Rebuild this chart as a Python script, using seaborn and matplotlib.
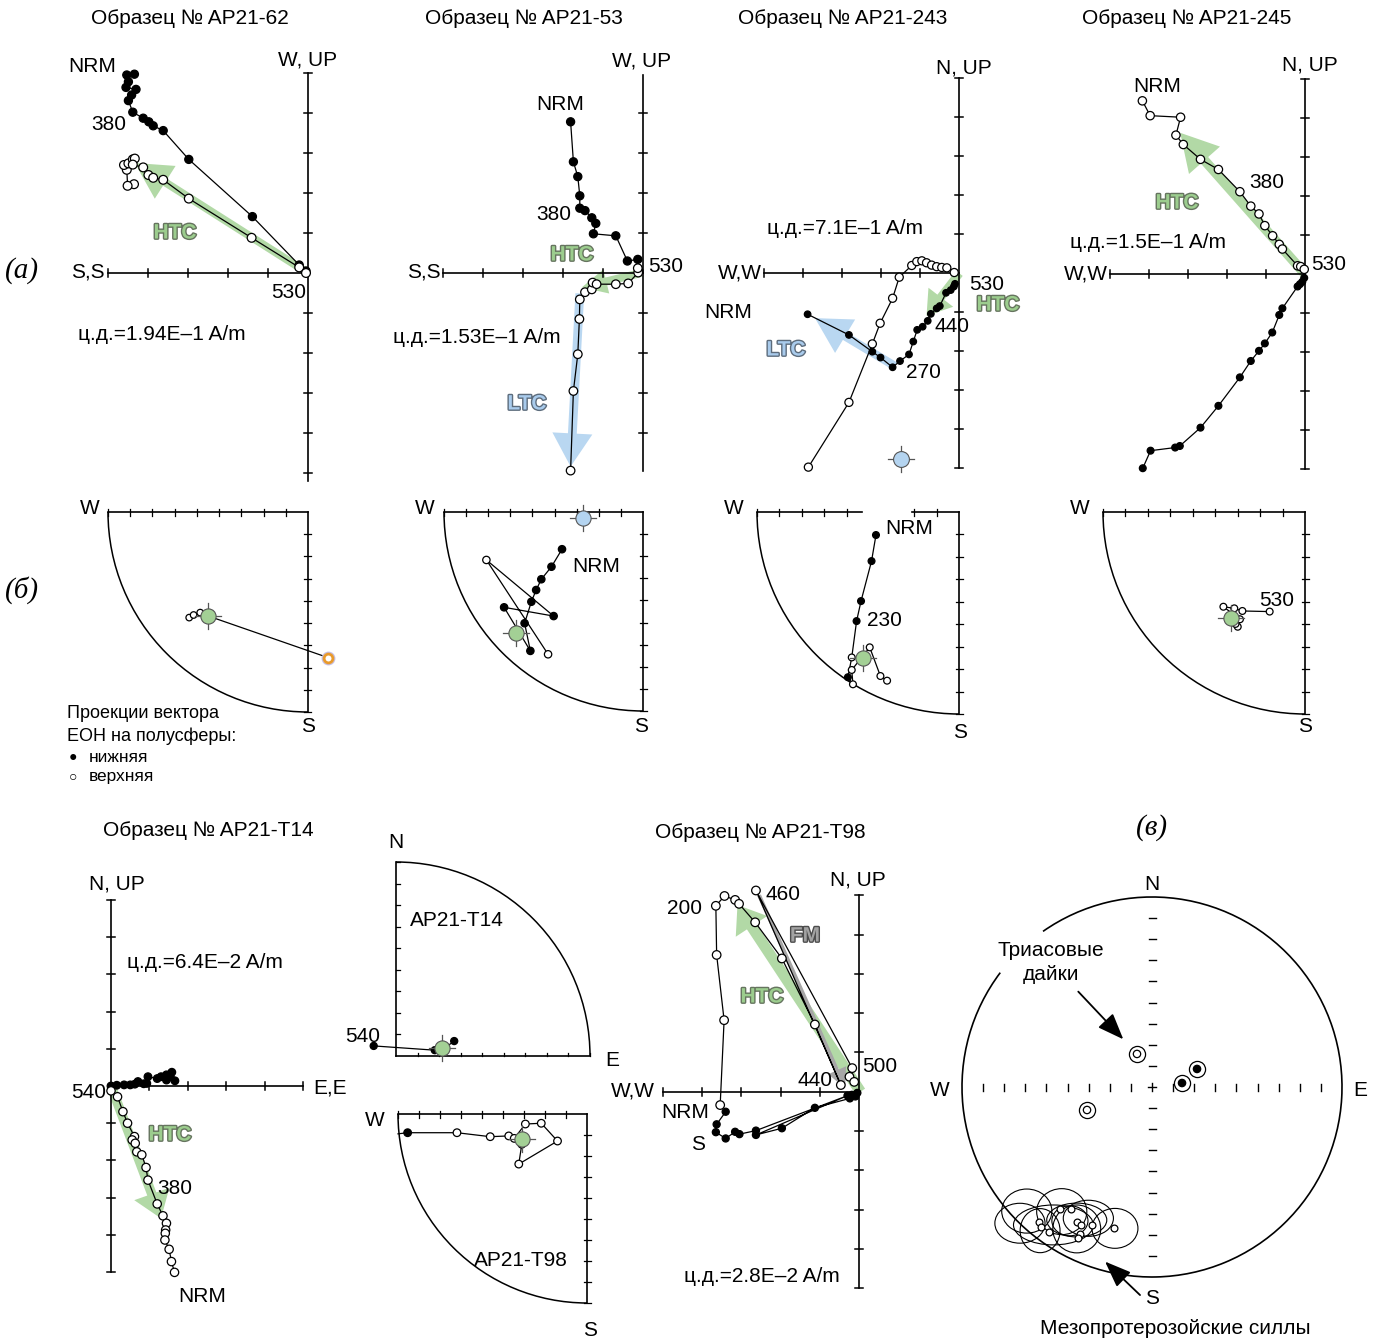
import numpy as np
import matplotlib
matplotlib.use("Agg")
import matplotlib.pyplot as plt
import matplotlib.patheffects as pe
from matplotlib.patches import FancyArrow, Arc, Ellipse
import seaborn as sns

W, H = 1381, 1342
FS = 15

# ---------------- data ----------------
# orthogonal (Zijderveld) plots, units = one axis tick
ap62_h_x = [-4.34, -4.53, -4.49, -4.55, -4.30, -4.41, -4.49, -4.38, -4.12, -3.98, -3.87, -3.62, -2.98, -1.39, -0.22, -0.05]
ap62_h_y = [4.97, 4.95, 4.78, 4.64, 4.59, 4.45, 4.31, 4.02, 3.87, 3.78, 3.68, 3.56, 2.84, 1.41, 0.20, 0.05]
ap62_v_x = [-4.35, -4.51, -4.53, -4.60, -4.49, -4.38, -4.33, -4.38, -4.12, -3.99, -3.87, -3.62, -2.98, -1.41, -0.22, -0.05]
ap62_v_y = [2.22, 2.18, 2.58, 2.70, 2.74, 2.84, 2.86, 2.71, 2.64, 2.45, 2.38, 2.33, 1.86, 0.88, 0.14, 0.00]

ap53_h_x = [-1.81, -1.74, -1.63, -1.58, -1.58, -1.45, -1.28, -1.18, -1.24, -0.68, -0.39, -0.13, -0.10]
ap53_h_y = [3.78, 2.78, 2.41, 1.93, 1.62, 1.56, 1.38, 1.24, 0.98, 0.93, 0.30, 0.34, 0.05]
ap53_v_x = [-1.81, -1.74, -1.63, -1.59, -1.58, -1.45, -1.28, -1.26, -1.16, -0.68, -0.37, -0.12, -0.13]
ap53_v_y = [-4.94, -2.95, -2.03, -1.15, -0.66, -0.48, -0.41, -0.24, -0.28, -0.28, -0.26, 0.01, 0.12]

ap243_h_x = [-3.89, -2.83, -2.23, -2.02, -1.71, -1.52, -1.29, -1.18, -1.08, -0.94, -0.81, -0.73, -0.58, -0.50, -0.34, -0.22, -0.14, -0.11]
ap243_h_y = [-1.05, -1.58, -2.01, -2.16, -2.41, -2.25, -2.08, -1.75, -1.45, -1.37, -1.22, -1.04, -0.90, -0.84, -0.50, -0.43, -0.34, -0.27]
ap243_v_x = [-3.87, -2.83, -2.23, -2.03, -1.71, -1.54, -1.22, -1.09, -0.96, -0.84, -0.71, -0.58, -0.45, -0.32, -0.13]
ap243_v_y = [-4.97, -3.31, -1.81, -1.28, -0.64, -0.10, 0.20, 0.30, 0.32, 0.27, 0.21, 0.17, 0.15, 0.14, 0.02]
ap243_mean = (-1.50, -4.75)

ap245_v_x = [-4.17, -3.97, -3.19, -3.31, -3.12, -2.68, -2.22, -1.67, -1.39, -1.18, -1.03, -0.83, -0.66, -0.58, -0.19, -0.11, -0.02]
ap245_v_y = [4.44, 4.06, 4.02, 3.56, 3.32, 2.94, 2.68, 2.11, 1.74, 1.54, 1.24, 0.98, 0.76, 0.64, 0.21, 0.19, 0.12]
ap245_h_x = [-4.16, -3.96, -3.33, -3.21, -2.68, -2.22, -1.67, -1.39, -1.18, -1.03, -0.84, -0.66, -0.58, -0.19, -0.13, -0.07, -0.02]
ap245_h_y = [-4.98, -4.53, -4.45, -4.41, -3.94, -3.38, -2.65, -2.23, -1.97, -1.78, -1.50, -1.05, -0.88, -0.32, -0.26, -0.20, -0.10]

t14_h_x = [0.0, 0.15, 0.34, 0.50, 0.62, 0.70, 0.85, 0.93, 0.96, 1.20, 1.30, 1.44, 1.58, 1.54, 1.66, 1.44]
t14_h_y = [0.0, 0.02, 0.03, 0.03, 0.05, 0.12, 0.06, 0.07, 0.25, 0.20, 0.25, 0.30, 0.37, 0.25, 0.14, 0.16]
t14_v_x = [0.0, 0.17, 0.31, 0.43, 0.61, 0.55, 0.63, 0.67, 0.80, 0.91, 0.96, 1.20, 1.35, 1.44, 1.42, 1.41, 1.40, 1.51, 1.57, 1.65]
t14_v_y = [-0.13, -0.29, -0.69, -1.00, -1.36, -1.45, -1.54, -1.77, -1.85, -2.19, -2.53, -3.17, -3.49, -3.69, -3.87, -3.96, -4.14, -4.39, -4.72, -5.01]

t98_v_x = [-3.54, -3.44, -3.63, -3.65, -3.43, -3.16, -3.06, -2.65, -1.97, -1.13, -0.47, -2.63, -0.18, -0.25, -0.13]
t98_v_y = [-0.34, 1.82, 3.48, 4.73, 4.98, 4.88, 4.78, 4.31, 3.39, 1.71, 0.17, 5.12, 0.60, 0.38, 0.25]
t98_h_x = [-3.40, -3.63, -3.65, -3.40, -3.16, -3.05, -2.63, -0.30, -2.63, -1.97, -1.13, -0.24, -0.19, -0.10, -0.05]
t98_h_y = [-0.51, -0.83, -1.03, -1.19, -1.02, -1.08, -0.99, -0.10, -1.10, -0.93, -0.41, -0.17, -0.08, -0.12, -0.03]

# fitted components: (start, tip, band width, head width, head length)
ap62_htc = [(0.0, 0.0), (-4.33, 2.75), 0.20, 0.97, 0.90]
ap53_htc = [(-0.05, 0.0), (-1.53, -0.36), 0.20, 0.62, 0.63]
ap53_ltc = [(-1.58, -0.51), (-1.81, -4.84), 0.22, 1.00, 0.83]
ap243_htc = [(0.0, 0.0), (-0.84, -1.09), 0.22, 0.80, 0.60]
ap243_ltc = [(-1.65, -2.38), (-3.70, -1.15), 0.22, 1.00, 0.90]
ap245_htc = [(0.0, 0.0), (-3.20, 3.62), 0.25, 1.06, 0.94]
t14_htc = [(0.0, 0.0), (1.30, -3.56), 0.25, 0.97, 0.70]
t98_htc = [(0.03, 0.0), (-3.10, 4.75), 0.28, 0.96, 0.65]
t98_fm = [(-2.55, 5.00), (-0.36, 0.09), 0.10, 0.50, 0.50]

# equal-area projections, units = net radius
st62_x = [-0.594, -0.572, -0.539, -0.488, 0.100]
st62_y = [-0.528, -0.515, -0.503, -0.507, -0.728]
st62_kind = ["open", "open", "open", "open", "open"]
st62_mean = (-0.499, -0.520)

st53_x = [-0.407, -0.460, -0.511, -0.537, -0.561, -0.595, -0.566, -0.698, -0.449, -0.787, -0.477]
st53_y = [-0.187, -0.275, -0.338, -0.392, -0.451, -0.559, -0.698, -0.479, -0.523, -0.241, -0.715]
st53_kind = ["filled"] * 9 + ["open", "open"]
st53_mean_htc = (-0.639, -0.606)
st53_mean_ltc = (-0.300, -0.032)

st243_x = [-0.411, -0.433, -0.485, -0.507, -0.531, -0.550, -0.525, -0.531, -0.442, -0.389, -0.356]
st243_y = [-0.114, -0.243, -0.441, -0.540, -0.720, -0.818, -0.853, -0.782, -0.670, -0.812, -0.835]
st243_kind = ["filled", "filled", "filled", "filled", "open", "filled", "open", "open", "open", "open", "open"]
st243_mean = (-0.476, -0.724)

st245_x = [-0.333, -0.344, -0.322, -0.404, -0.350, -0.310, -0.175]
st245_y = [-0.568, -0.554, -0.531, -0.469, -0.477, -0.490, -0.493]
st245_kind = ["open"] * 7
st245_mean = (-0.365, -0.523)

stt14_x = [-0.115, 0.200, 0.250, 0.300]
stt14_y = [0.052, 0.030, 0.040, 0.077]
stt14_kind = ["filled"] * 4
stt14_mean = (0.238, 0.040)

stt98_x = [-0.949, -0.688, -0.512, -0.414, -0.385, -0.326, -0.242, -0.156, -0.361, -0.345]
stt98_y = [-0.099, -0.099, -0.120, -0.116, -0.129, -0.053, -0.049, -0.143, -0.265, -0.160]
stt98_kind = ["filled"] + ["open"] * 9
stt98_mean = (-0.345, -0.134)

# summary net (в)
dyke_x = [-0.079, -0.342, 0.158, 0.237]
dyke_y = [0.174, -0.121, 0.021, 0.095]
dyke_kind = ["open", "open", "filled", "filled"]
sill_x = [-0.595, -0.544, -0.484, -0.428, -0.396, -0.374, -0.379, -0.316, -0.198, -0.586, -0.389]
sill_y = [-0.712, -0.765, -0.644, -0.644, -0.712, -0.726, -0.774, -0.726, -0.744, -0.735, -0.795]
sill_a95_x = [-0.659, -0.475, -0.432, -0.396, -0.195, -0.589, -0.396, -0.519, -0.335, -0.695]
sill_a95_y = [-0.653, -0.656, -0.704, -0.747, -0.744, -0.756, -0.700, -0.726, -0.691, -0.717]
sill_a95_rx = [0.132, 0.132, 0.095, 0.126, 0.121, 0.105, 0.158, 0.210, 0.132, 0.132]
sill_a95_ry = [0.116, 0.121, 0.079, 0.126, 0.105, 0.116, 0.089, 0.105, 0.095, 0.105]

MARK = {"filled": "black", "open": "white"}
GREEN, BLUE, GRAY = "#b2d9a6", "#b9d7f1", "#a6a6a6"
MEAN_GREEN, MEAN_BLUE = "#a3d095", "#b4d4f0"

plt.rcParams["font.family"] = ["Liberation Sans", "DejaVu Sans"]
fig = plt.figure(figsize=(W / 100, H / 100), dpi=100)
limits = {}


def panel(name, ox, oy, sx, sy=None):
    # full-figure axes whose data origin sits at pixel (ox, oy)
    sy = sx if sy is None else sy
    ax = fig.add_axes([0, 0, 1, 1], label=name)
    limits[name] = ((-ox / sx, (W - ox) / sx), ((oy - H) / sy, oy / sy))
    ax.set_xlim(*limits[name][0])
    ax.set_ylim(*limits[name][1])
    ax.axis("off")
    return ax


def txt(x, y, s, ha="center", size=FS, **kw):
    fig.text(x / W, 1 - y / H, s, ha=ha, va="center", fontsize=size, **kw)


COMP = {"HTC": ("#9ccd8e", "#66745f"), "LTC": ("#a9cbec", "#5d6c7c"), "FM": ("#a2a2a2", "#4d4d4d")}


def comp_label(x, y, name):
    fill, edge = COMP[name]
    txt(x, y, name, color=fill, fontweight="bold",
        path_effects=[pe.withStroke(linewidth=2.0, foreground=edge)])


def ortho_frame(ax, xr, yr, sx, sy, tick=4.0):
    ax.plot(xr, [0, 0], color="black", lw=1.2, zorder=2)
    ax.plot([0, 0], yr, color="black", lw=1.2, zorder=2)
    for t in range(int(np.ceil(xr[0])), int(np.floor(xr[1])) + 1):
        if t:
            ax.plot([t, t], [-tick / sy, tick / sy], color="black", lw=1.1, zorder=2)
    for t in range(int(np.ceil(yr[0] - 1e-6)), int(np.floor(yr[1] + 1e-6)) + 1):
        if t:
            ax.plot([-tick / sx, tick / sx], [t, t], color="black", lw=1.1, zorder=2)


def component(ax, fit, color):
    (x0, y0), (x1, y1), w, hw, hl = fit
    ax.add_patch(FancyArrow(x0, y0, x1 - x0, y1 - y0, width=w, head_width=hw, head_length=hl,
                            length_includes_head=True, fc=color, ec="none", zorder=1))


def demag(ax, x, y, kind, size, lw=0.9):
    sns.lineplot(x=x, y=y, sort=False, estimator=None, color="black", linewidth=lw,
                 ax=ax, legend=False, zorder=3)
    sns.scatterplot(x=x, y=y, hue=kind, palette=MARK, edgecolor="black", s=size,
                    linewidth=0.9, ax=ax, legend=False, zorder=4)


def mean_mark(ax, pos, color, scale, size=120):
    arm = 13 / scale
    x, y = pos
    ax.plot([x - arm, x + arm], [y, y], color="#555555", lw=0.9, zorder=5)
    ax.plot([x, x], [y - arm, y + arm], color="#555555", lw=0.9, zorder=5)
    sns.scatterplot(x=[x], y=[y], color=color, edgecolor="#555555", s=size, linewidth=0.8,
                    ax=ax, legend=False, zorder=6)


def quarter_frame(ax, quadrant, R, gap=None, tick=3.5):
    t = tick / R
    ks = np.arange(1, 10) / 9
    if quadrant == "SW":
        ax.add_patch(Arc((0, 0), 2, 2, theta1=180, theta2=270, color="black", lw=1.1))
        segs = [(-1, 0)] if gap is None else [(-1, gap[0]), (gap[1], 0)]
        for a, b in segs:
            ax.plot([a, b], [0, 0], color="black", lw=1.2)
        ax.plot([0, 0], [0, -1], color="black", lw=1.2)
        for k in ks:
            if gap is None or not (gap[0] < -k < gap[1]):
                ax.plot([-k, -k], [-t, t], color="black", lw=0.9)
            ax.plot([-t, t], [-k, -k], color="black", lw=0.9)
    else:
        ax.add_patch(Arc((0, 0), 2, 2, theta1=0, theta2=90, color="black", lw=1.1))
        ax.plot([0, 1], [0, 0], color="black", lw=1.2)
        ax.plot([0, 0], [0, 1], color="black", lw=1.2)
        for k in ks:
            ax.plot([k, k], [0, t], color="black", lw=0.9)
            ax.plot([0, t], [k, k], color="black", lw=0.9)


# ---------------- row (а): orthogonal plots ----------------
ax = panel("a62", 308, 273, 40)
component(ax, ap62_htc, GREEN)
ortho_frame(ax, (-5, 0), (-5.2, 5), 40, 40)
demag(ax, ap62_h_x, ap62_h_y, ["filled"] * len(ap62_h_x), 34)
demag(ax, ap62_v_x, ap62_v_y, ["open"] * len(ap62_v_x), 40)

ax = panel("a53", 643, 273, 40)
component(ax, ap53_htc, GREEN)
component(ax, ap53_ltc, BLUE)
ortho_frame(ax, (-5, 0), (-4.95, 4.95), 40, 40)
demag(ax, ap53_h_x, ap53_h_y, ["filled"] * len(ap53_h_x), 34)
demag(ax, ap53_v_x, ap53_v_y, ["open"] * len(ap53_v_x), 38)

ax = panel("a243", 959.3, 273.3, 39)
component(ax, ap243_htc, GREEN)
component(ax, ap243_ltc, BLUE)
ortho_frame(ax, (-5, 0), (-5, 5), 39, 39)
demag(ax, ap243_h_x, ap243_h_y, ["filled"] * len(ap243_h_x), 22)
demag(ax, ap243_v_x, ap243_v_y, ["open"] * len(ap243_v_x), 34)
mean_mark(ax, ap243_mean, MEAN_BLUE, 39, size=130)

ax = panel("a245", 1305, 274, 39)
component(ax, ap245_htc, GREEN)
ortho_frame(ax, (-5, 0), (-5, 5), 39, 39)
demag(ax, ap245_h_x, ap245_h_y, ["filled"] * len(ap245_h_x), 24)
demag(ax, ap245_v_x, ap245_v_y, ["open"] * len(ap245_v_x), 36)

# ---------------- row (б): stereonets ----------------
ax = panel("s62", 308, 512, 200)
quarter_frame(ax, "SW", 200)
demag(ax, st62_x[:4], st62_y[:4], st62_kind[:4], 22)
sns.lineplot(x=[st62_mean[0], st62_x[4]], y=[st62_mean[1], st62_y[4]], sort=False,
             estimator=None, color="black", linewidth=0.9, ax=ax, legend=False, zorder=3)
sns.scatterplot(x=st62_x[4:], y=st62_y[4:], color="white", edgecolor="#c4bfe6", s=80,
                linewidth=1.0, ax=ax, legend=False, zorder=4)
sns.scatterplot(x=st62_x[4:], y=st62_y[4:], color="white", edgecolor="#e89a2c", s=40,
                linewidth=2.0, ax=ax, legend=False, zorder=5)
mean_mark(ax, st62_mean, MEAN_GREEN, 200)

ax = panel("s53", 643, 512, 199)
quarter_frame(ax, "SW", 199)
demag(ax, st53_x, st53_y, st53_kind, 28)
mean_mark(ax, st53_mean_htc, MEAN_GREEN, 199)
mean_mark(ax, st53_mean_ltc, MEAN_BLUE, 199)

ax = panel("s243", 959, 512, 202)
quarter_frame(ax, "SW", 202, gap=(-0.48, -0.233))
demag(ax, st243_x, st243_y, st243_kind, 24)
mean_mark(ax, st243_mean, MEAN_GREEN, 202)

ax = panel("s245", 1305, 512, 202)
quarter_frame(ax, "SW", 202)
demag(ax, st245_x, st245_y, st245_kind, 24)
mean_mark(ax, st245_mean, MEAN_GREEN, 202)

# ---------------- bottom row ----------------
ax = panel("t14", 111, 1086, 38.5, 37.2)
component(ax, t14_htc, GREEN)
ortho_frame(ax, (0, 5), (-5, 5), 38.5, 37.2)
demag(ax, t14_h_x, t14_h_y, ["filled"] * len(t14_h_x), 30)
demag(ax, t14_v_x, t14_v_y, ["open"] * len(t14_v_x), 36)

ax = panel("st14", 396, 1056, 194)
quarter_frame(ax, "NE", 194)
demag(ax, stt14_x, stt14_y, stt14_kind, 26)
mean_mark(ax, stt14_mean, MEAN_GREEN, 194)

ax = panel("st98", 587, 1114, 189)
quarter_frame(ax, "SW", 189)
ax.plot([-1.0, stt98_x[0]], [-0.105, stt98_y[0]], color="black", lw=0.9)
demag(ax, stt98_x, stt98_y, stt98_kind, 30)
mean_mark(ax, stt98_mean, MEAN_GREEN, 189)

ax = panel("t98", 859.3, 1091.7, 39.3)
component(ax, t98_htc, GREEN)
component(ax, t98_fm, GRAY)
ortho_frame(ax, (-5, 0), (-5, 5), 39.3, 39.3)
demag(ax, t98_h_x, t98_h_y, ["filled"] * len(t98_h_x), 26)
demag(ax, t98_v_x, t98_v_y, ["open"] * len(t98_v_x), 38)

# summary net (в)
R = 190
ax = panel("net", 1152, 1087, R)
ax.add_patch(Arc((0, 0), 2, 2, theta1=143, theta2=485, color="black", lw=1.2))
for k in range(1, 9):
    for sgn in (-1, 1):
        ax.plot([sgn * k / 9] * 2, [-3.5 / R, 3.5 / R], color="black", lw=1.0)
        ax.plot([-3.5 / R, 3.5 / R], [sgn * k / 9] * 2, color="black", lw=1.0)
ax.plot([-4 / R, 4 / R], [0, 0], color="black", lw=1.0)
ax.plot([0, 0], [-4 / R, 4 / R], color="black", lw=1.0)
for ex, ey, rx, ry in zip(sill_a95_x, sill_a95_y, sill_a95_rx, sill_a95_ry):
    ax.add_patch(Ellipse((ex, ey), 2 * rx, 2 * ry, fill=False, ec="black", lw=0.8, zorder=3))
sns.scatterplot(x=sill_x, y=sill_y, color="white", edgecolor="black", s=24, linewidth=0.9,
                ax=ax, legend=False, zorder=4)
ax.scatter(dyke_x, dyke_y, s=135, facecolors="white", edgecolors="black", linewidths=0.9, zorder=4)
sns.scatterplot(x=dyke_x, y=dyke_y, hue=dyke_kind, palette=MARK, edgecolor="black", s=28,
                linewidth=0.9, ax=ax, legend=False, zorder=5)
arrow_kw = dict(arrowstyle="-|>,head_length=0.9,head_width=0.35", color="black", lw=1.3,
                mutation_scale=18, shrinkA=0, shrinkB=0)
ax.annotate("", xy=(-0.151, 0.251), xytext=(-0.388, 0.502), arrowprops=arrow_kw)
ax.annotate("", xy=(-0.247, -0.919), xytext=(-0.063, -1.095), arrowprops=arrow_kw)

for name, lim in limits.items():
    a = [x for x in fig.axes if x.get_label() == name][0]
    a.set_xlim(*lim[0])
    a.set_ylim(*lim[1])

# ---------------- text ----------------
for s, x, y in [("Образец № AP21-62", 190, 18), ("Образец № AP21-53", 524, 18),
                ("Образец № AP21-243", 843, 18), ("Образец № AP21-245", 1187, 18),
                ("Образец № AP21-T14", 208, 830), ("Образец № AP21-T98", 760, 832)]:
    txt(x, y, s)

serif = dict(family=["Liberation Serif", "DejaVu Serif"], style="italic", size=21)
txt(22, 271, "(а)", **serif)
txt(22, 590, "(б)", **serif)
txt(1152, 828, "(в)", **serif)

# AP21-62
txt(308, 60, "W, UP"); txt(105, 272, "S,S", ha="right")
txt(92, 67, "NRM"); txt(109, 124, "380"); txt(289, 292, "530")
txt(162, 335, "ц.д.=1.94E–1 A/m")
comp_label(175, 233, "HTC")
# AP21-53
txt(642, 61, "W, UP"); txt(441, 272, "S,S", ha="right")
txt(560, 105, "NRM"); txt(554, 215, "380"); txt(666, 267, "530")
txt(477, 338, "ц.д.=1.53E–1 A/m")
comp_label(572, 255, "HTC"); comp_label(527, 404, "LTC")
# AP21-243
txt(964, 68, "N, UP"); txt(762, 273, "W,W", ha="right")
txt(728, 313, "NRM"); txt(987, 285, "530"); txt(952, 327, "440"); txt(923, 373, "270")
txt(845, 228, "ц.д.=7.1E–1 A/m")
comp_label(998, 305, "HTC"); comp_label(786, 350, "LTC")
# AP21-245
txt(1310, 65, "N, UP"); txt(1108, 274, "W,W", ha="right")
txt(1157, 87, "NRM"); txt(1267, 182, "380"); txt(1329, 265, "530")
txt(1148, 243, "ц.д.=1.5E–1 A/m")
comp_label(1177, 203, "HTC")

# stereonets row
for x, y in [(90, 508), (425, 508), (734, 508), (1080, 508)]:
    txt(x, y, "W")
for x, y in [(308, 727), (641, 726), (960, 733), (1305, 727)]:
    txt(x, y, "S")
txt(596, 567, "NRM"); txt(909, 529, "NRM"); txt(884, 621, "230"); txt(1277, 600, "530")
txt(67, 714, "Проекции вектора", ha="left", size=13)
txt(67, 736, "ЕОН на полусферы:", ha="left", size=13)
txt(73, 757, "●", size=10); txt(89, 757, "нижняя", ha="left", size=12.5)
txt(73, 776, "○", size=10); txt(89, 776, "верхняя", ha="left", size=12.5)

# AP21-T14
txt(117, 884, "N, UP"); txt(313, 1088, "E,E", ha="left"); txt(106, 1093, "540", ha="right")
txt(205, 963, "ц.д.=6.4E–2 A/m"); txt(175, 1189, "380"); txt(202, 1296, "NRM")
comp_label(170, 1135, "HTC")
# quarter nets, bottom row
txt(396, 843, "N"); txt(612, 1060, "E"); txt(363, 1037, "540")
txt(457, 920, "AP21-T14")
txt(375, 1121, "W"); txt(590, 1330, "S"); txt(521, 1260, "AP21-T98")
# AP21-T98
txt(858, 880, "N, UP"); txt(655, 1091, "W,W", ha="right")
txt(685, 909, "200"); txt(783, 894, "460"); txt(880, 1067, "500"); txt(815, 1080, "440")
txt(685, 1113, "NRM"); txt(698, 1145, "S")
txt(762, 1277, "ц.д.=2.8E–2 A/m")
comp_label(805, 936, "FM"); comp_label(762, 997, "HTC")
# summary net
txt(1152, 884, "N"); txt(1152, 1299, "S"); txt(940, 1091, "W"); txt(1360, 1091, "E")
txt(1051, 951, "Триасовые"); txt(1051, 975, "дайки")
txt(1175, 1329, "Мезопротерозойские силлы")

fig.savefig("out.png", dpi=100)
